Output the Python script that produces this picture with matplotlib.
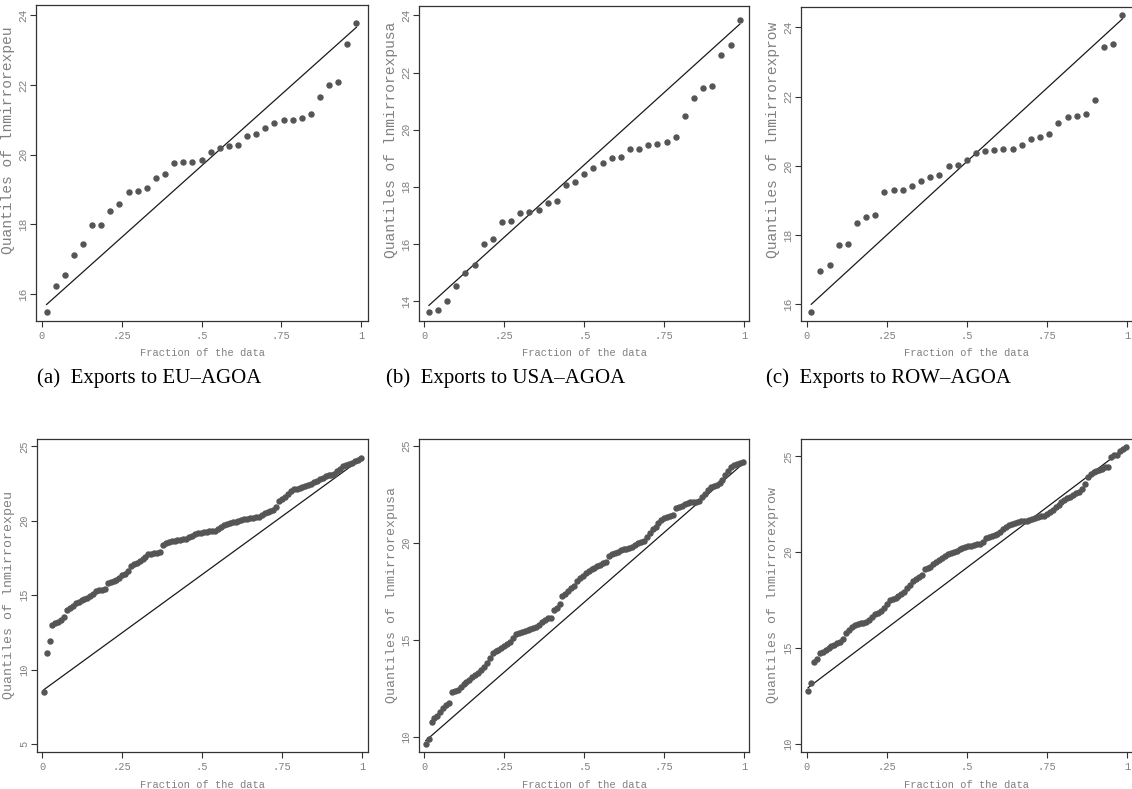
import numpy as np
import matplotlib
matplotlib.use("Agg")
import matplotlib.pyplot as plt

# ---------------- data ----------------
eu_agoa = [15.48, 16.23, 16.56, 17.12, 17.43, 17.98, 17.98, 18.38, 18.59, 18.92,
           18.95, 19.05, 19.33, 19.46, 19.75, 19.78, 19.80, 19.85, 20.09, 20.20,
           20.25, 20.28, 20.54, 20.59, 20.77, 20.92, 21.01, 21.01, 21.05, 21.17,
           21.67, 22.00, 22.10, 23.19, 23.78]
usa_agoa = [13.60, 13.67, 14.00, 14.51, 14.97, 15.26, 16.00, 16.17, 16.78, 16.79,
            17.07, 17.13, 17.19, 17.42, 17.50, 18.06, 18.17, 18.46, 18.67, 18.83,
            19.00, 19.03, 19.31, 19.32, 19.46, 19.51, 19.57, 19.76, 20.49, 21.10,
            21.46, 21.53, 22.63, 22.96, 23.84]
row_agoa = [15.78, 16.97, 17.13, 17.72, 17.73, 18.35, 18.51, 18.59, 19.26, 19.29,
            19.29, 19.41, 19.56, 19.68, 19.73, 20.00, 20.03, 20.17, 20.37, 20.43,
            20.46, 20.49, 20.50, 20.60, 20.79, 20.83, 20.91, 21.25, 21.40, 21.45,
            21.49, 21.90, 23.44, 23.53, 24.37]

eu_all = [8.47, 11.10, 11.94, 12.97, 13.15, 13.22, 13.30, 13.55, 13.98, 14.12,
          14.25, 14.45, 14.55, 14.68, 14.76, 14.80, 14.92, 15.10, 15.25, 15.35,
          15.37, 15.38, 15.80, 15.88, 15.97, 16.05, 16.15, 16.35, 16.45, 16.60,
          16.95, 17.08, 17.18, 17.30, 17.42, 17.55, 17.75, 17.78, 17.80, 17.85,
          17.92, 18.40, 18.50, 18.60, 18.62, 18.64, 18.68, 18.72, 18.76, 18.80,
          18.92, 19.00, 19.10, 19.17, 19.20, 19.24, 19.27, 19.29, 19.31, 19.34,
          19.45, 19.58, 19.74, 19.80, 19.85, 19.88, 19.92, 19.98, 20.04, 20.10,
          20.13, 20.16, 20.20, 20.24, 20.28, 20.38, 20.50, 20.60, 20.68, 20.72,
          20.95, 21.30, 21.45, 21.62, 21.80, 22.00, 22.10, 22.15, 22.20, 22.25,
          22.30, 22.42, 22.50, 22.60, 22.70, 22.78, 22.90, 23.00, 23.04, 23.07,
          23.15, 23.32, 23.50, 23.66, 23.74, 23.82, 23.90, 23.98, 24.05, 24.20]
usa_all = [9.66, 9.90, 10.77, 11.00, 11.10, 11.30, 11.50, 11.68, 11.75, 12.35,
           12.40, 12.45, 12.60, 12.72, 12.85, 12.97, 13.10, 13.22, 13.32, 13.45,
           13.60, 13.80, 14.10, 14.35, 14.43, 14.50, 14.62, 14.72, 14.80, 14.90,
           15.10, 15.30, 15.37, 15.42, 15.48, 15.52, 15.58, 15.65, 15.70, 15.80,
           15.92, 16.05, 16.13, 16.16, 16.55, 16.65, 16.85, 17.25, 17.40, 17.52,
           17.68, 17.80, 18.05, 18.22, 18.28, 18.45, 18.55, 18.65, 18.72, 18.80,
           18.88, 18.97, 19.05, 19.35, 19.45, 19.50, 19.56, 19.62, 19.67, 19.72,
           19.76, 19.82, 19.90, 19.98, 20.05, 20.13, 20.30, 20.50, 20.70, 20.85,
           21.02, 21.20, 21.30, 21.36, 21.40, 21.45, 21.80, 21.88, 21.92, 22.02,
           22.08, 22.12, 22.13, 22.14, 22.15, 22.35, 22.55, 22.72, 22.88, 22.95,
           23.00, 23.10, 23.25, 23.50, 23.70, 23.90, 24.00, 24.07, 24.12, 24.15]
row_all = [12.78, 13.16, 14.29, 14.45, 14.75, 14.82, 14.88, 15.00, 15.10, 15.18,
           15.25, 15.32, 15.45, 15.80, 15.95, 16.10, 16.22, 16.28, 16.30, 16.32,
           16.36, 16.45, 16.60, 16.78, 16.85, 16.92, 17.10, 17.30, 17.50, 17.58,
           17.62, 17.70, 17.80, 17.92, 18.15, 18.30, 18.50, 18.60, 18.72, 18.80,
           19.10, 19.15, 19.25, 19.38, 19.50, 19.60, 19.70, 19.80, 19.90, 19.98,
           20.02, 20.08, 20.15, 20.20, 20.27, 20.30, 20.32, 20.35, 20.40, 20.44,
           20.55, 20.72, 20.80, 20.85, 20.90, 20.97, 21.05, 21.20, 21.32, 21.42,
           21.47, 21.50, 21.55, 21.60, 21.62, 21.65, 21.70, 21.73, 21.77, 21.82,
           21.86, 21.90, 22.00, 22.10, 22.20, 22.35, 22.48, 22.60, 22.72, 22.80,
           22.90, 23.00, 23.08, 23.16, 23.30, 23.55, 23.90, 24.10, 24.18, 24.25,
           24.30, 24.35, 24.42, 24.45, 24.98, 25.05, 25.08, 25.30, 25.40, 25.50]

x_ticks = [0, 0.25, 0.5, 0.75, 1]
x_tick_labels = ["0", ".25", ".5", ".75", "1"]
y_labels = ["Quantiles of lnmirrorexpeu", "Quantiles of lnmirrorexpusa",
            "Quantiles of lnmirrorexprow", "Quantiles of lnmirrorexpeu",
            "Quantiles of lnmirrorexpusa", "Quantiles of lnmirrorexprow"]
y_ticks = [[16, 18, 20, 22, 24], [14, 16, 18, 20, 22, 24], [16, 18, 20, 22, 24],
           [5, 10, 15, 20, 25], [10, 15, 20, 25], [10, 15, 20, 25]]
captions = ["(a)  Exports to EU\u2013AGOA", "(b)  Exports to USA\u2013AGOA",
            "(c)  Exports to ROW\u2013AGOA"]
x_label = "Fraction of the data"
series = [eu_agoa, usa_agoa, row_agoa, eu_all, usa_all, row_all]

# ---------------- layout ----------------
W, H = 1132, 789
fig = plt.figure(figsize=(W / 100, H / 100), dpi=100)
fig.patch.set_facecolor("white")

# pixel boxes: left, right, top, bottom ; xlim ; ylim ; label x px ; label y px
boxes = [
    (36, 368, 5, 321, (-0.0188, 1.0219), (15.225, 24.30), 15, 140),
    (419, 749, 6, 321, (-0.0166, 1.0147), (13.30, 24.33), 398, 140),
    (801, 1134, 7, 321, (-0.0178, 1.0218), (15.52, 24.59), 780, 140),
    (37, 368, 439, 752, (-0.0166, 1.0188), (4.46, 25.49), 15, 595),
    (419, 749, 439, 752, (-0.0166, 1.0147), (9.24, 25.36), 398, 595),
    (801, 1134, 439, 752, (-0.0178, 1.0218), (9.58, 25.90), 779, 595),
]

mono = "Liberation Mono"
gray = "#808080"
frame = "#333333"

for k, (l, r, t, b, xl, yl, lab_x, lab_y) in enumerate(boxes):
    ax = fig.add_axes([l / W, 1 - b / H, (r - l) / W, (b - t) / H])
    vals = np.sort(np.asarray(series[k], dtype=float))
    n = len(vals)
    p = (np.arange(1, n + 1) - 0.5) / n
    lo, hi = vals[0], vals[-1]
    ref = lo + (hi - lo) * p
    ax.plot([p[0], p[-1]], [ref[0] + 0.1, ref[-1]], color="#1a1a1a", lw=0.9, zorder=2)
    ax.plot(p, vals, linestyle="none", marker="o", ms=3.6, color="#555555",
            mec="#555555", zorder=3)
    ax.set_xlim(*xl)
    ax.set_ylim(*yl)
    ax.set_xticks(x_ticks)
    ax.set_xticklabels(x_tick_labels)
    ax.set_yticks(y_ticks[k])
    ax.set_yticklabels([str(v) for v in y_ticks[k]], rotation=90, va="center")
    top = k < 3
    ax.tick_params(axis="x", direction="out", length=4, width=0.8,
                   color=frame, labelcolor=gray, labelsize=7.5, pad=3)
    ax.tick_params(axis="y", direction="out", length=4, width=0.8,
                   color=frame, labelcolor=gray, labelsize=8 if top else 7.5,
                   pad=1.5)
    for lab in ax.get_xticklabels() + ax.get_yticklabels():
        lab.set_fontfamily(mono)
    for s in ax.spines.values():
        s.set_color(frame)
        s.set_linewidth(0.9)
    ax.set_ylabel(y_labels[k], fontfamily=mono, color=gray,
                  fontsize=10.5 if top else 9.5)
    ax.yaxis.set_label_coords((lab_x - l) / (r - l), (b - lab_y) / (b - t))
    ax.set_xlabel(x_label, fontfamily=mono, color=gray, fontsize=7.5)
    xlab_y = 348 if top else 780
    ax.xaxis.set_label_coords(((l + r) / 2 - l) / (r - l) if k % 3 != 2 else (966 - l) / (r - l),
                              (b - xlab_y) / (b - t))

caption_x = [37, 386, 766]
for i, c in enumerate(captions):
    fig.text(caption_x[i] / W, 1 - 378 / H, c, fontfamily="Liberation Serif",
             fontsize=15, color="black", ha="left", va="center")

fig.savefig("out.png", dpi=100, facecolor="white")
